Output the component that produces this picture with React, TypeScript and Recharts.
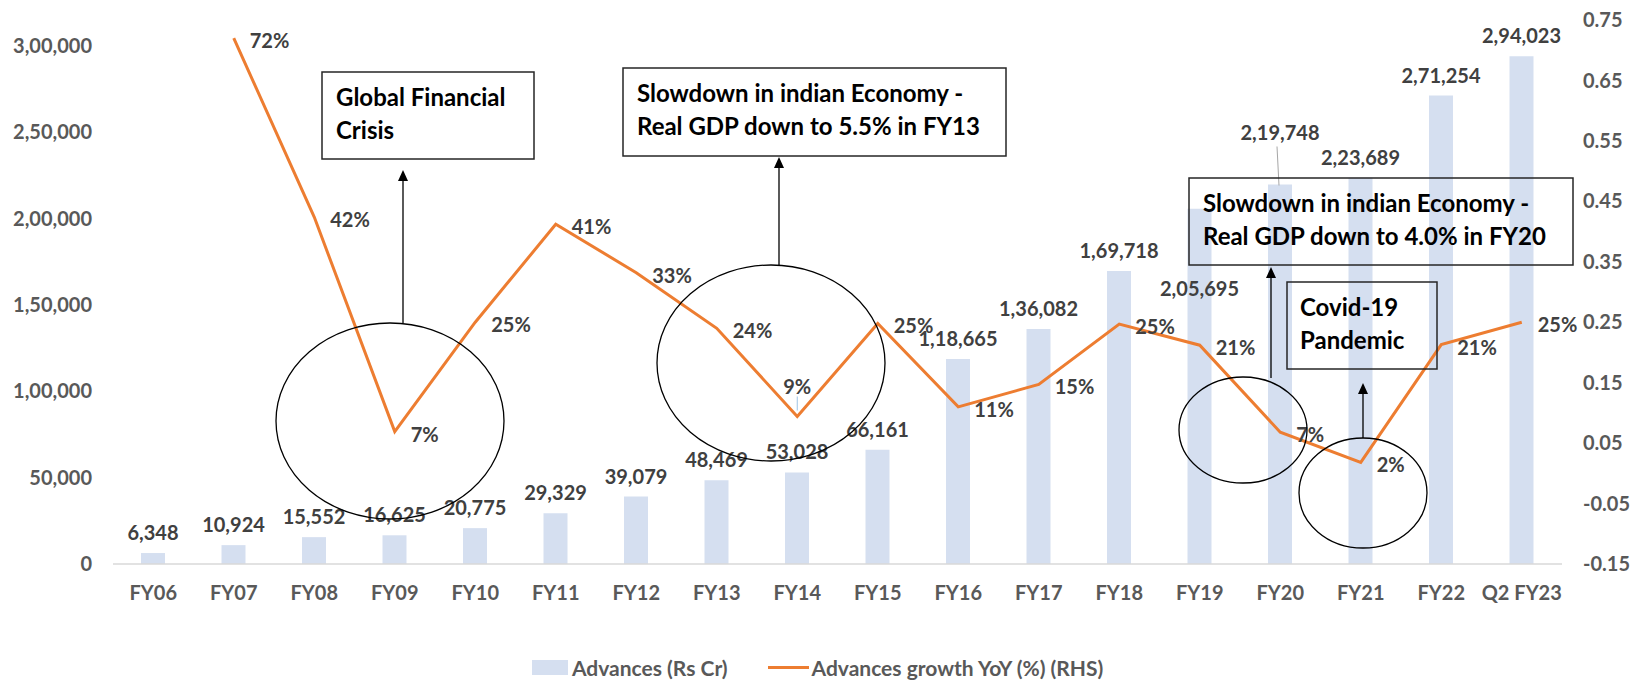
import React from 'react';
import { ComposedChart, Bar, Line, XAxis, YAxis, LabelList, Legend } from 'recharts';

const categories = ['FY06', 'FY07', 'FY08', 'FY09', 'FY10', 'FY11', 'FY12', 'FY13', 'FY14', 'FY15', 'FY16', 'FY17', 'FY18', 'FY19', 'FY20', 'FY21', 'FY22', 'Q2 FY23'];
const advances = [6348, 10924, 15552, 16625, 20775, 29329, 39079, 48469, 53028, 66161, 118665, 136082, 169718, 205695, 219748, 223689, 271254, 294023];
const growth: (number | null)[] = [null, 0.72, 0.424, 0.069, 0.25, 0.412, 0.332, 0.24, 0.094, 0.248, 0.11, 0.147, 0.247, 0.212, 0.068, 0.018, 0.213, 0.25];
const leftTicks = [0, 50000, 100000, 150000, 200000, 250000, 300000];
const rightTicks = [-0.15, -0.05, 0.05, 0.15, 0.25, 0.35, 0.45, 0.55, 0.65, 0.75];
const barName = 'Advances (Rs Cr)';
const lineName = 'Advances growth YoY (%) (RHS)';

const data = categories.map((cat, i) => ({ cat, adv: advances[i], gr: growth[i] }));

const FONT = 'Lato, "Open Sans", sans-serif';
const BAR_COLOR = '#D5DFF0';
const LINE_COLOR = '#ED7D31';

function fmtIN(v: number): string {
  const s = String(Math.round(Math.abs(v)));
  if (s.length <= 3) return (v < 0 ? '-' : '') + s;
  const last3 = s.slice(-3);
  let rest = s.slice(0, -3);
  const parts: string[] = [];
  while (rest.length > 2) {
    parts.unshift(rest.slice(-2));
    rest = rest.slice(0, -2);
  }
  if (rest.length) parts.unshift(rest);
  return (v < 0 ? '-' : '') + parts.join(',') + ',' + last3;
}

const BarLabel = (props: any) => {
  const { x, y, width, value, index } = props;
  const cx = Number(x) + Number(width) / 2;
  const top = Number(y);
  let ly = top - 21;
  let leader = null;
  if (categories[index] === 'FY19') ly = top + 79;
  if (categories[index] === 'FY20') {
    ly = top - 52;
    leader = <line x1={cx - 3} y1={top - 38} x2={cx - 1} y2={top + 1} stroke="#A6A6A6" strokeWidth={1} />;
  }
  return (
    <g>
      {leader}
      <text x={cx} y={ly} textAnchor="middle" dominantBaseline="central" fill="#404040" fontSize={20} fontWeight={700} fontFamily={FONT}>
        {fmtIN(Number(value))}
      </text>
    </g>
  );
};

const LineLabel = (props: any) => {
  const { x, y, value, index } = props;
  if (value === null || value === undefined) return null;
  const px = Number(x);
  const py = Number(y);
  const txt = Math.round(Number(value) * 100) + '%';
  if (categories[index] === 'FY14') {
    return (
      <g>
        <line x1={px} y1={py - 20} x2={px} y2={py - 6} stroke="#9DC3E6" strokeWidth={1} />
        <text x={px} y={py - 31} textAnchor="middle" dominantBaseline="central" fill="#404040" fontSize={20} fontWeight={700} fontFamily={FONT}>
          {txt}
        </text>
      </g>
    );
  }
  return (
    <text x={px + 16} y={py + 2} textAnchor="start" dominantBaseline="central" fill="#404040" fontSize={20} fontWeight={700} fontFamily={FONT}>
      {txt}
    </text>
  );
};

const LegendContent = () => (
  <div style={{ display: 'flex', alignItems: 'center', justifyContent: 'flex-start', fontFamily: FONT, fontWeight: 700, fontSize: 21, color: '#595959', whiteSpace: 'nowrap' }}>
    <span style={{ display: 'inline-block', width: 36, height: 15, background: BAR_COLOR, marginRight: 4 }} />
    <span style={{ marginRight: 40 }}>{barName}</span>
    <span style={{ display: 'inline-block', width: 41, height: 3, background: LINE_COLOR, marginRight: 3 }} />
    <span>{lineName}</span>
  </div>
);

const Box = ({ x, y, w, h, lines, tx, ty }: { x: number; y: number; w: number; h: number; lines: string[]; tx: number; ty: number }) => (
  <g>
    <rect x={x} y={y} width={w} height={h} fill="none" stroke="#262626" strokeWidth={1.5} />
    {lines.map((l, i) => (
      <text key={i} x={tx} y={ty + i * 33} dominantBaseline="central" fill="#000" fontSize={24} fontWeight={700} fontFamily={FONT}>
        {l}
      </text>
    ))}
  </g>
);

const Arrow = ({ x, y1, y2 }: { x: number; y1: number; y2: number }) => (
  <g>
    <line x1={x} y1={y1} x2={x} y2={y2 + 9} stroke="#000" strokeWidth={1.3} />
    <polygon points={`${x},${y2} ${x - 5},${y2 + 11} ${x + 5},${y2 + 11}`} fill="#000" />
  </g>
);

const Annotations = () => (
  <svg width={1633} height={680} style={{ position: 'absolute', left: 0, top: 0, pointerEvents: 'none' }}>
    <Box x={322} y={72} w={212} h={87} lines={['Global Financial', 'Crisis']} tx={336} ty={96} />
    <Box x={623} y={68} w={383} h={88} lines={['Slowdown in indian Economy -', 'Real GDP down to 5.5% in FY13']} tx={637} ty={92} />
    <Box x={1189} y={178} w={384} h={87} lines={['Slowdown in indian Economy -', 'Real GDP down to 4.0% in FY20']} tx={1203} ty={202} />
    <Box x={1287} y={282} w={150} h={87} lines={['Covid-19', 'Pandemic']} tx={1300} ty={306} />
    <Arrow x={403} y1={323} y2={170} />
    <Arrow x={779} y1={265} y2={157} />
    <Arrow x={1271} y1={378} y2={267} />
    <Arrow x={1363} y1={438} y2={383} />
    <ellipse cx={390} cy={421} rx={114} ry={98} fill="none" stroke="#000" strokeWidth={1.3} />
    <ellipse cx={771} cy={363} rx={114} ry={98} fill="none" stroke="#000" strokeWidth={1.3} />
    <ellipse cx={1243} cy={430} rx={64} ry={53} fill="none" stroke="#000" strokeWidth={1.3} />
    <ellipse cx={1363} cy={493} rx={64} ry={55} fill="none" stroke="#000" strokeWidth={1.3} />
  </svg>
);

export default function App() {
  return (
    <div style={{ position: 'absolute', left: 0, top: 0, width: 1633, height: 680, background: '#fff' }}>
      <ComposedChart width={1633} height={680} data={data} margin={{ top: 20, right: 0, bottom: 86, left: 0 }} barSize={24}>
        <XAxis
          dataKey="cat"
          interval={0}
          tickLine={false}
          tickSize={0}
          tickMargin={22}
          axisLine={{ stroke: '#D9D9D9', strokeWidth: 1.5 }}
          tick={{ fill: '#595959', fontSize: 20, fontWeight: 700, fontFamily: FONT }}
        />
        <YAxis
          yAxisId="left"
          width={113}
          domain={[0, 315000]}
          ticks={leftTicks}
          allowDataOverflow
          axisLine={false}
          tickLine={false}
          tickSize={0}
          tickMargin={21}
          tickFormatter={(v: number) => fmtIN(v)}
          tick={{ fill: '#595959', fontSize: 20, fontWeight: 700, fontFamily: FONT }}
        />
        <YAxis
          yAxisId="right"
          orientation="right"
          width={71}
          domain={[-0.15, 0.75]}
          ticks={rightTicks}
          allowDataOverflow
          axisLine={false}
          tickLine={false}
          tickSize={0}
          tickMargin={21}
          tickFormatter={(v: number) => v.toFixed(2)}
          tick={{ fill: '#595959', fontSize: 20, fontWeight: 700, fontFamily: FONT }}
        />
        <Legend
          layout="horizontal"
          verticalAlign="middle"
          align="center"
          wrapperStyle={{ top: 655, left: 532, width: 700 }}
          content={<LegendContent />}
        />
        <Bar yAxisId="left" dataKey="adv" name={barName} fill={BAR_COLOR} isAnimationActive={false}>
          <LabelList dataKey="adv" content={<BarLabel />} />
        </Bar>
        <Line yAxisId="right" dataKey="gr" name={lineName} stroke={LINE_COLOR} strokeWidth={3} dot={false} activeDot={false} isAnimationActive={false}>
          <LabelList dataKey="gr" content={<LineLabel />} />
        </Line>
      </ComposedChart>
      <Annotations />
    </div>
  );
}
